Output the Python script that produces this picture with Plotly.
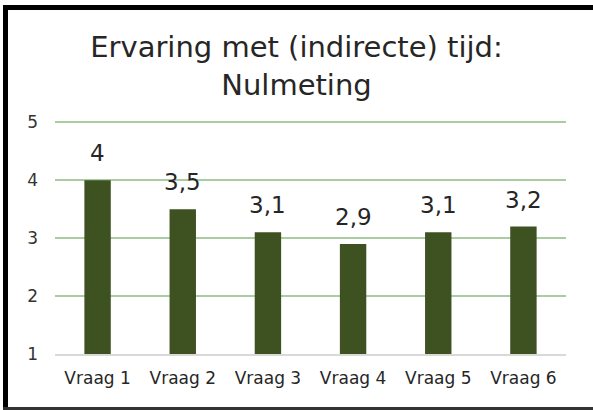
import plotly.graph_objects as go

categories = ["Vraag 1", "Vraag 2", "Vraag 3", "Vraag 4", "Vraag 5", "Vraag 6"]
values = [4.0, 3.5, 3.1, 2.9, 3.1, 3.2]
value_labels = ["4", "3,5", "3,1", "2,9", "3,1", "3,2"]
y_ticks = [1, 2, 3, 4, 5]

FONT = "DejaVu Sans"
W, H = 593, 410
ML, MR, MT, MB = 55, 27, 120, 56
PW, PH = W - ML - MR, H - MT - MB

def px_x(px):
    return (px - ML) / PW

def px_y(py):
    return (H - MB - py) / PH

fig = go.Figure()
fig.add_trace(go.Bar(
    x=categories, y=values,
    marker=dict(color="#3E5121", line=dict(width=0)),
    hoverinfo="skip",
))

for c, v, lab in zip(categories, values, value_labels):
    fig.add_annotation(
        x=c, y=v, text=lab, showarrow=False,
        yanchor="bottom", yshift=12,
        font=dict(family=FONT, size=23, color="#262626"),
    )

fig.update_layout(
    width=W, height=H, autosize=False,
    margin=dict(l=ML, r=MR, t=MT, b=MB),
    paper_bgcolor="white", plot_bgcolor="white",
    bargap=0.69,
    showlegend=False,
    title=dict(
        text="Ervaring met (indirecte) tijd:<br>Nulmeting",
        x=0.5, xanchor="center", xref="container",
        y=1 - 57 / H, yanchor="middle", yref="container",
        font=dict(family=FONT, size=29, color="#262626"),
    ),
    font=dict(family=FONT, size=17, color="#262626"),
    xaxis=dict(
        showgrid=False, showline=True, linecolor="#D9D9D9", linewidth=2,
        ticks="", ticklabelstandoff=8, tickfont=dict(size=17, color="#262626"),
    ),
    yaxis=dict(
        range=[1, 5.04], tickvals=y_ticks, ticktext=[str(t) for t in y_ticks],
        showgrid=True, gridcolor="#A9CDA0", gridwidth=2,
        zeroline=False, showline=False, ticks="",
        ticklabelstandoff=16,
        tickfont=dict(size=17, color="#333333"),
    ),
    shapes=[
        dict(type="line", xref="paper", yref="paper",
             x0=px_x(3), x1=px_x(593), y0=px_y(7.5), y1=px_y(7.5),
             line=dict(color="black", width=5)),
        dict(type="line", xref="paper", yref="paper",
             x0=px_x(5.5), x1=px_x(5.5), y0=px_y(5), y1=px_y(409),
             line=dict(color="black", width=5)),
        dict(type="line", xref="paper", yref="paper",
             x0=px_x(3), x1=px_x(593), y0=px_y(408.5), y1=px_y(408.5),
             line=dict(color="#333333", width=3)),
    ],
)

fig.write_html(
    "out.html",
    config={"displayModeBar": False},
    post_script=(
        "document.documentElement.style.margin='0';"
        "document.documentElement.style.padding='0';"
        "document.documentElement.style.overflow='hidden';"
        "document.documentElement.style.background='white';"
        "document.body.style.margin='0';"
        "document.body.style.padding='0';"
        "document.body.style.overflow='hidden';"
        "document.body.style.background='white';"
    ),
)
